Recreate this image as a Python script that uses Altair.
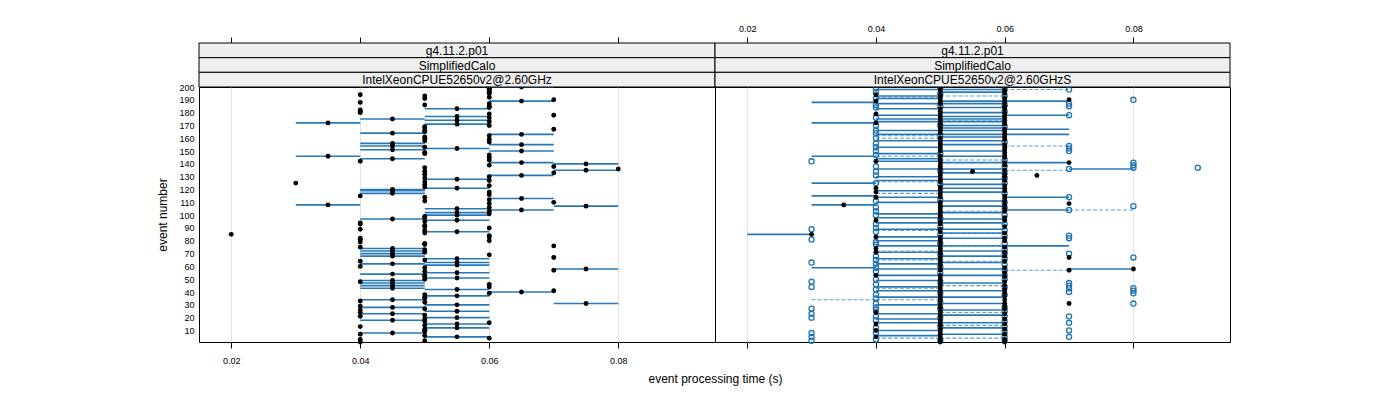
import altair as alt
import pandas as pd

FONT = "Liberation Sans"
W_L, W_R, H = 516, 515, 255
SH = 44 / 3.0  # strip row height

x_ticks = [0.02, 0.04, 0.06, 0.08]
y_ticks = [10, 20, 30, 40, 50, 60, 70, 80, 90, 100,
           110, 120, 130, 140, 150, 160, 170, 180, 190, 200]
x_domain = [0.015, 0.095]
y_domain = [1, 200]

strip_version = "g4.11.2.p01"
strip_test = "SimplifiedCalo"
strip_cpu_left = "IntelXeonCPUE52650v2@2.60GHz"
strip_cpu_right = "IntelXeonCPUE52650v2@2.60GHzS"

# ---------------- left panel: mean time per event (events 1..200) ----------
left_event = list(range(1, 201))
left_time = [
    0.04, 0.05, 0.04, 0.06, 0.055, 0.05, 0.04, 0.045, 0.05, 0.05,
    0.05, 0.055, 0.04, 0.05, 0.055, 0.06, 0.05, 0.045, 0.05, 0.055,
    0.04, 0.05, 0.045, 0.04, 0.055, 0.04, 0.05, 0.045, 0.04, 0.055,
    0.075, 0.05, 0.04, 0.045, 0.05, 0.05, 0.055, 0.05, 0.06, 0.065,
    0.07, 0.055, 0.045, 0.06, 0.045, 0.06, 0.045, 0.04, 0.045, 0.05,
    0.055, 0.05, 0.05, 0.045, 0.055, 0.05, 0.07, 0.075, 0.05, 0.04,
    0.055, 0.045, 0.055, 0.04, 0.05, 0.055, 0.07, 0.045, 0.06, 0.045,
    0.05, 0.045, 0.05, 0.045, 0.04, 0.07, 0.05, 0.05, 0.04, 0.06,
    0.04, 0.04, 0.06, 0.06, 0.02, 0.05, 0.055, 0.05, 0.04, 0.06,
    0.05, 0.05, 0.04, 0.04, 0.05, 0.055, 0.045, 0.05, 0.05, 0.055,
    0.06, 0.055, 0.06, 0.065, 0.055, 0.06, 0.075, 0.035, 0.06, 0.07,
    0.05, 0.06, 0.065, 0.05, 0.04, 0.06, 0.045, 0.06, 0.045, 0.045,
    0.055, 0.05, 0.06, 0.05, 0.03, 0.05, 0.06, 0.055, 0.05, 0.06,
    0.065, 0.05, 0.07, 0.05, 0.075, 0.08, 0.05, 0.07, 0.06, 0.075,
    0.065, 0.04, 0.06, 0.045, 0.06, 0.035, 0.06, 0.05, 0.05, 0.065,
    0.045, 0.055, 0.05, 0.045, 0.065, 0.045, 0.06, 0.05, 0.06, 0.05,
    0.05, 0.06, 0.065, 0.045, 0.05, 0.05, 0.07, 0.05, 0.05, 0.06,
    0.055, 0.035, 0.06, 0.055, 0.045, 0.06, 0.055, 0.07, 0.06, 0.04,
    0.04, 0.04, 0.055, 0.06, 0.06, 0.05, 0.06, 0.04, 0.065, 0.07,
    0.05, 0.06, 0.05, 0.04, 0.06, 0.06, 0.06, 0.06, 0.06, 0.065,
]
# left panel ranges (min..max), events listed per range
left_rng_030_040 = [108, 146, 172]
left_rng_040_050 = [8, 18, 23, 28, 34, 43, 45, 47, 49, 54, 62, 68, 70, 72, 74,
                    97, 117, 119, 120, 144, 151, 154, 156, 164, 175]
left_rng_050_060 = [5, 12, 15, 20, 25, 30, 37, 42, 51, 55, 61, 63, 66, 87, 96,
                    100, 102, 105, 121, 128, 152, 171, 174, 177, 183]
left_rng_060_070 = [40, 104, 113, 131, 141, 150, 155, 163, 189, 200]
left_rng_070_080 = [31, 58, 107, 135, 140]

# ---------------- right panel -----------------------------------------------
right_solid_020_030 = [85]
right_solid_030_040 = [59, 108, 115, 125, 146, 172, 188]
right_solid_040_050 = [6, 10, 16, 19, 23, 30, 36, 41, 44, 49, 53, 58, 62, 66, 71,
                       76, 80, 83, 89, 94, 98, 101, 110, 114, 119, 127, 130, 136,
                       142, 144, 148, 153, 158, 163, 166, 173, 175, 178, 183, 187,
                       191, 193, 198]
right_solid_050_060 = [7, 12, 16, 22, 26, 31, 36, 41, 47, 53, 58, 63, 68, 72, 76,
                       82, 86, 89, 94, 97, 102, 107, 111, 118, 121, 124, 128, 133,
                       136, 141, 146, 150, 155, 158, 161, 163, 166, 168, 170, 173,
                       175, 177, 180, 184, 187, 189, 196, 198]
right_solid_060_070 = [76, 104, 114, 141, 163, 167, 178, 189]
right_solid_070_080 = [58, 136]

right_dash_030_040 = [34]
right_dash_040_050 = [4, 34, 43, 65, 72, 88, 117, 126, 146, 160, 162, 192]
right_dash_050_060 = [4, 14, 24, 45, 64, 76, 86, 103, 143, 174, 193]
right_dash_060_070 = [57, 135, 154, 198]
right_dash_070_080 = [104]

right_dot_030 = [85]
right_dot_035 = [108]
right_dot_040 = [5, 10, 15, 24, 53, 71, 74, 83, 96, 114, 118, 121, 142, 172,
                 179, 189, 194]
right_dot_050 = [1, 3, 5, 7, 9, 11, 14, 16, 18, 21, 23, 25, 28, 30, 33, 35, 37,
                 40, 42, 44, 46, 49, 51, 53, 57, 58, 61, 63, 65, 67, 70, 72, 74,
                 76, 79, 81, 83, 87, 89, 93, 95, 98, 100, 102, 104, 106, 108,
                 110, 114, 116, 118, 120, 122, 126, 127, 129, 131, 133, 136, 138,
                 140, 142, 144, 146, 150, 152, 154, 156, 158, 160, 164, 166, 168,
                 171, 173, 175, 177, 179, 181, 183, 187, 188, 190, 192, 194, 197,
                 199]
right_dot_055 = [134]
right_dot_060 = [1, 3, 7, 11, 15, 19, 23, 27, 29, 31, 34, 37, 40, 42, 45, 48, 52,
                 55, 59, 64, 68, 71, 75, 80, 82, 86, 91, 96, 98, 103, 105, 108,
                 111, 113, 115, 119, 121, 123, 127, 130, 132, 135, 139, 141, 145,
                 147, 149, 151, 153, 155, 159, 161, 163, 165, 167, 171, 172, 174,
                 176, 178, 180, 183, 185, 188, 189, 191, 195, 197, 200]
right_dot_065 = [131]
right_dot_070 = [31, 57, 67, 109, 141, 190]
right_dot_080 = [58]

right_circ_030 = [2, 5, 8, 20, 23, 27, 44, 48, 63, 81, 89, 142]
right_circ_040 = [3, 8, 12, 18, 21, 26, 28, 31, 35, 38, 42, 46, 50, 56, 59, 62,
                  65, 68, 77, 79, 87, 90, 93, 100, 103, 106, 111, 125, 131, 134,
                  138, 147, 150, 153, 156, 160, 164, 166, 170, 176, 184, 186,
                  191, 196, 199]
right_circ_050 = [2, 13, 20, 27, 32, 39, 48, 55, 60, 69, 78, 85, 91, 97, 112,
                  124, 135, 148, 162, 170, 185, 195, 200]
right_circ_060 = [2, 5, 9, 13, 17, 21, 25, 28, 38, 44, 50, 53, 57, 61, 66, 70,
                  73, 78, 84, 88, 93, 100, 106, 110, 117, 125, 129, 133, 138,
                  143, 157, 169, 181, 186, 193, 198]
right_circ_070 = [5, 10, 16, 21, 40, 43, 45, 47, 70, 82, 84, 104, 114, 136, 150,
                  152, 154, 178, 185, 187, 198]
right_circ_080 = [31, 39, 41, 43, 67, 107, 137, 139, 141, 190]
right_circ_090 = [137]


def seg_frame(groups):
    rows = []
    for lo, hi, evs in groups:
        for e in evs:
            rows.append({"event": e, "lo": lo, "hi": hi})
    return pd.DataFrame(rows)


def pt_frame(groups):
    rows = []
    for t, evs in groups:
        for e in evs:
            rows.append({"event": e, "time": t})
    return pd.DataFrame(rows)


left_points = pd.DataFrame({"event": left_event, "time": left_time})
left_segs = seg_frame([(0.03, 0.04, left_rng_030_040), (0.04, 0.05, left_rng_040_050),
                       (0.05, 0.06, left_rng_050_060), (0.06, 0.07, left_rng_060_070),
                       (0.07, 0.08, left_rng_070_080)])

right_solid = seg_frame([(0.02, 0.03, right_solid_020_030), (0.03, 0.04, right_solid_030_040),
                         (0.04, 0.05, right_solid_040_050), (0.05, 0.06, right_solid_050_060),
                         (0.06, 0.07, right_solid_060_070), (0.07, 0.08, right_solid_070_080)])
right_dash = seg_frame([(0.03, 0.04, right_dash_030_040), (0.04, 0.05, right_dash_040_050),
                        (0.05, 0.06, right_dash_050_060), (0.06, 0.07, right_dash_060_070),
                        (0.07, 0.08, right_dash_070_080)])
right_dots = pt_frame([(0.03, right_dot_030), (0.035, right_dot_035), (0.04, right_dot_040),
                       (0.05, right_dot_050), (0.055, right_dot_055), (0.06, right_dot_060),
                       (0.065, right_dot_065), (0.07, right_dot_070), (0.08, right_dot_080)])
right_circs = pt_frame([(0.03, right_circ_030), (0.04, right_circ_040), (0.05, right_circ_050),
                        (0.06, right_circ_060), (0.07, right_circ_070), (0.08, right_circ_080),
                        (0.09, right_circ_090)])
tick_df = pd.DataFrame({"t": x_ticks})

LINE = "#2878b8"
DASH = "#5c9fd3"
CIRC = "#1f74b4"

xs = alt.Scale(domain=x_domain, nice=False, zero=False)
ys = alt.Scale(domain=y_domain, nice=False, zero=False)


def panel(width, cpu_label, top_labels, is_left, segs, dashes, dots, circs):
    layers = []
    bottom_axis = alt.Axis(orient="bottom", values=x_ticks, format=".2f", labels=is_left,
                           tickSize=6, labelPadding=8, domain=False, grid=True,
                           gridColor="#e4e4e4", labelFontSize=9, labelColor="black",
                           tickColor="black",
                           title="event processing time (s)" if is_left else None,
                           titleX=width, titleY=36, titleBaseline="middle",
                           titleFontSize=12, titleFontWeight="normal", titleColor="black")
    top_axis = alt.Axis(orient="top", values=x_ticks, format=".2f", labels=top_labels,
                        tickSize=6, labelPadding=4, domain=False, grid=False, offset=44,
                        labelFontSize=9, labelColor="black", tickColor="black", title=None)
    layers.append(alt.Chart(tick_df).mark_tick(opacity=0).encode(
        x=alt.X("t:Q", scale=xs, axis=bottom_axis),
        y=alt.value(0)))
    layers.append(alt.Chart(tick_df).mark_tick(opacity=0).encode(
        x=alt.X("t:Q", scale=xs, axis=top_axis),
        y=alt.value(0)))
    if is_left:
        yaxis = alt.Axis(values=y_ticks, ticks=False, tickSize=0, labelPadding=5,
                         domain=False, grid=False, labelFontSize=9, labelColor="black",
                         title="event number", titleFontSize=12, titleFontWeight="normal",
                         titleColor="black", titlePadding=9)
    else:
        yaxis = None
    layers.append(alt.Chart(segs).mark_rule(color=LINE, strokeWidth=1.6).encode(
        x=alt.X("lo:Q", scale=xs, axis=None), x2="hi:Q",
        y=alt.Y("event:Q", scale=ys, axis=yaxis)))
    if dashes is not None:
        layers.append(alt.Chart(dashes).mark_rule(color=DASH, strokeWidth=1.1,
                                                  strokeDash=[4, 2]).encode(
            x=alt.X("lo:Q", scale=xs, axis=None), x2="hi:Q",
            y=alt.Y("event:Q", scale=ys, axis=yaxis)))
    if circs is not None:
        layers.append(alt.Chart(circs).mark_point(shape="circle", filled=False, color=CIRC,
                                                  size=26, strokeWidth=1.3, opacity=1).encode(
            x=alt.X("time:Q", scale=xs, axis=None),
            y=alt.Y("event:Q", scale=ys, axis=yaxis)))
    layers.append(alt.Chart(dots).mark_circle(color="black", size=24, opacity=1).encode(
        x=alt.X("time:Q", scale=xs, axis=None),
        y=alt.Y("event:Q", scale=ys, axis=yaxis)))
    # strips
    strip_texts = [strip_version, strip_test, cpu_label]
    for i, txt in enumerate(strip_texts):
        sdf = pd.DataFrame({"label": [txt]})
        y0 = -44 + i * SH
        layers.append(alt.Chart(sdf).mark_rect(fill="#efefef", stroke="black",
                                               strokeWidth=1).encode(
            x=alt.value(0), x2=alt.value(width), y=alt.value(y0), y2=alt.value(y0 + SH)))
        layers.append(alt.Chart(sdf).mark_text(fontSize=12, font=FONT, color="black",
                                               baseline="middle", align="center").encode(
            x=alt.value(width / 2), y=alt.value(y0 + SH / 2 + 0.5), text="label:N"))
    return alt.layer(*layers).properties(width=width, height=H)


left = panel(W_L, strip_cpu_left, False, True, left_segs, None, left_points, None)
right = panel(W_R, strip_cpu_right, True, False, right_solid, right_dash, right_dots, right_circs)

chart = alt.hconcat(left, right, spacing=0, bounds="flush").properties(
    padding={"left": 148, "top": 15, "right": 5, "bottom": 5}
).configure_view(stroke="black", strokeWidth=1).configure_axis(
    labelFont=FONT, titleFont=FONT
)

chart.save("out.html", embed_options={"renderer": "svg", "actions": False})
